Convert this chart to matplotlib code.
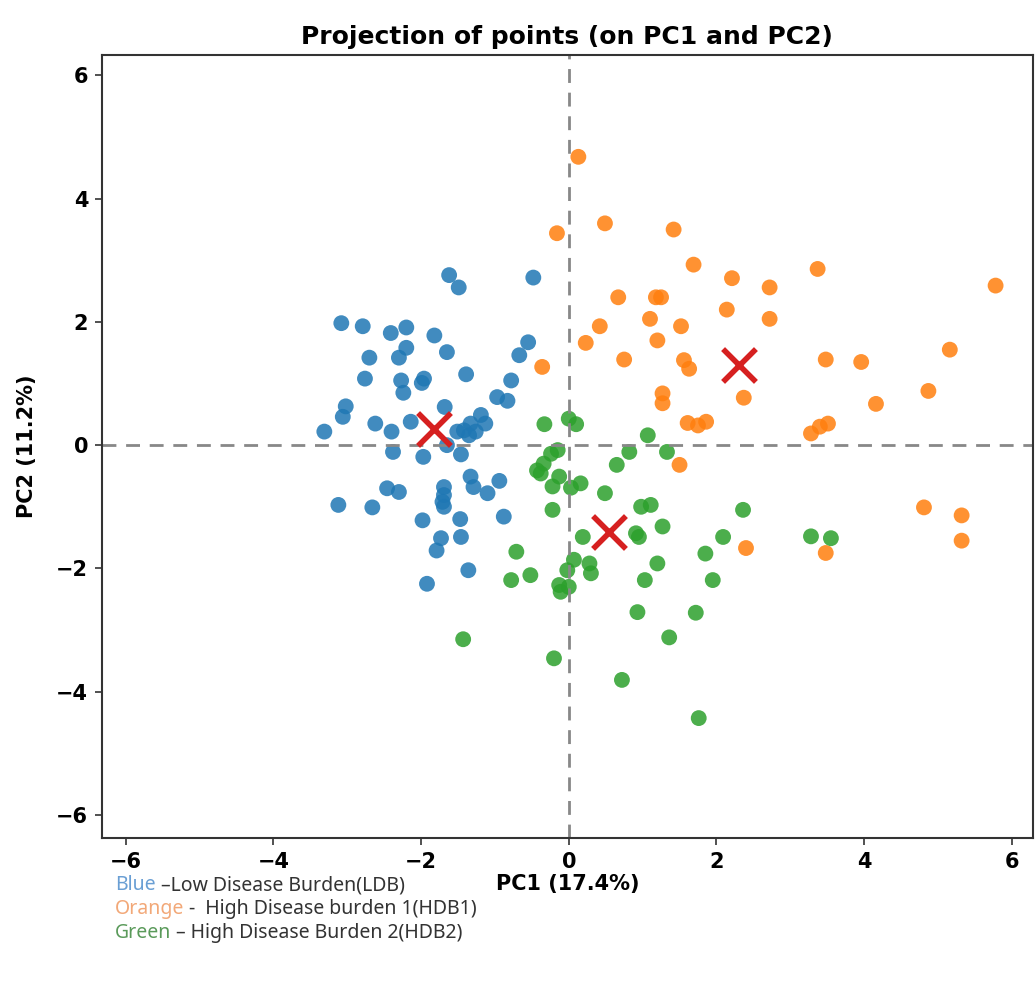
import matplotlib
matplotlib.use('Agg')
import matplotlib.pyplot as plt
import numpy as np

# PC scores, one list pair per cluster
blue_x = [-1.62, -1.49, -0.48, -3.08, -2.79, -2.41, -2.20, -1.82, -2.20, -2.30,
          -2.70, -1.65, -0.55, -0.67, -2.76, -2.27, -2.24, -1.96, -1.99, -1.39,
          -0.78, -0.97, -0.83, -3.02, -3.06, -3.31, -2.62, -2.40, -2.14, -1.68,
          -1.19, -1.13, -1.33, -1.42, -1.51, -1.26, -1.35, -1.65, -2.38, -1.97,
          -1.46, -1.33, -1.29, -1.10, -0.94, -2.46, -2.30, -1.69, -1.69, -1.71,
          -1.69, -3.12, -2.66, -1.98, -1.47, -0.88, -1.46, -1.73, -1.79, -1.36,
          -1.92]
blue_y = [2.76, 2.56, 2.72, 1.98, 1.93, 1.82, 1.91, 1.78, 1.58, 1.42,
          1.42, 1.51, 1.67, 1.46, 1.08, 1.05, 0.85, 1.08, 1.01, 1.15,
          1.05, 0.78, 0.72, 0.63, 0.46, 0.22, 0.35, 0.22, 0.38, 0.62,
          0.49, 0.35, 0.35, 0.24, 0.22, 0.22, 0.16, 0.00, -0.11, -0.19,
          -0.15, -0.51, -0.68, -0.78, -0.58, -0.70, -0.76, -0.68, -0.81, -0.92,
          -1.00, -0.97, -1.01, -1.22, -1.20, -1.16, -1.49, -1.51, -1.71, -2.03,
          -2.25]

orange_x = [0.13, 0.49, -0.16, 1.42, 1.69, 2.21, 2.72, 0.67, 1.18, 1.25,
            2.14, 2.72, 0.42, 1.10, 1.52, 0.23, 1.20, 0.75, 1.56, 1.63,
            -0.36, 2.37, 1.27, 1.27, 1.61, 1.75, 1.86, 1.50, 2.40, 3.37,
            5.78, 3.48, 3.96, 5.16, 4.87, 4.16, 3.28, 3.40, 3.51, 4.81,
            5.32, 5.32, 3.48]
orange_y = [4.68, 3.60, 3.44, 3.50, 2.93, 2.71, 2.56, 2.40, 2.40, 2.40,
            2.20, 2.05, 1.93, 2.05, 1.93, 1.66, 1.70, 1.39, 1.38, 1.24,
            1.27, 0.77, 0.84, 0.68, 0.36, 0.32, 0.38, -0.32, -1.67, 2.86,
            2.59, 1.39, 1.35, 1.55, 0.88, 0.67, 0.19, 0.30, 0.35, -1.01,
            -1.14, -1.55, -1.75]

green_x = [-0.33, 0.00, 0.10, 1.07, 0.82, 0.65, 1.33, -0.24, -0.15, -0.34,
           -0.43, -0.38, -0.13, -0.22, 0.03, 0.16, 0.49, -0.22, 0.98, 1.11,
           1.27, 0.91, 0.95, 0.19, 2.36, 2.09, 1.85, 1.95, 1.20, 1.03,
           -0.71, -0.78, -0.52, 0.07, 0.28, 0.30, -0.02, -0.13, -0.11, 0.00,
           0.93, 1.72, 1.36, -1.43, -0.20, 0.72, 1.76, 3.28, 3.55]
green_y = [0.34, 0.43, 0.34, 0.16, -0.11, -0.32, -0.11, -0.14, -0.08, -0.30,
           -0.41, -0.46, -0.51, -0.67, -0.69, -0.62, -0.78, -1.05, -1.00, -0.97,
           -1.32, -1.43, -1.49, -1.49, -1.05, -1.49, -1.76, -2.19, -1.92, -2.19,
           -1.73, -2.19, -2.11, -1.86, -1.92, -2.08, -2.03, -2.27, -2.38, -2.30,
           -2.71, -2.72, -3.12, -3.15, -3.46, -3.81, -4.43, -1.48, -1.51]

centroid_x = [-1.83, 2.31, 0.55]
centroid_y = [0.27, 1.30, -1.41]

ticks = [-6, -4, -2, 0, 2, 4, 6]
tick_labels = ['\u22126', '\u22124', '\u22122', '0', '2', '4', '6']

fig = plt.figure(figsize=(10.35, 9.85), dpi=100)
ax = fig.add_axes([0.0986, 0.149, 0.899, 0.795])

ax.scatter(blue_x, blue_y, s=130, color='#1f77b4', alpha=0.85, edgecolors='none')
ax.scatter(orange_x, orange_y, s=130, color='#ff7f0e', alpha=0.85, edgecolors='none')
ax.scatter(green_x, green_y, s=130, color='#2ca02c', alpha=0.85, edgecolors='none')
ax.scatter(centroid_x, centroid_y, s=560, marker='x', color='#d62020', linewidths=4, zorder=5)

ax.axhline(0, color='#888888', linestyle='--', linewidth=2, dashes=(5, 3.5))
ax.axvline(0, color='#888888', linestyle='--', linewidth=2, dashes=(5, 3.5))

ax.set_xlim(-6.32, 6.28)
ax.set_ylim(-6.38, 6.33)
ax.set_xticks(ticks)
ax.set_yticks(ticks)
ax.set_xticklabels(tick_labels, fontweight='bold', fontsize=15)
ax.set_yticklabels(tick_labels, fontweight='bold', fontsize=15)
ax.tick_params(length=5, width=1.2, color='#333333', pad=5)
for sp in ax.spines.values():
    sp.set_linewidth(1.5)
    sp.set_color('#333333')

ax.set_title('Projection of points (on PC1 and PC2)', fontweight='bold', fontsize=18, pad=8)
ax.set_xlabel('PC1 (17.4%)', fontweight='bold', fontsize=15, labelpad=1)
ax.set_ylabel('PC2 (11.2%)', fontweight='bold', fontsize=15, labelpad=14)

# colour key written below the axes
captions = [('Blue', '#6a9fd4', ' \u2013Low Disease Burden(LDB)'),
            ('Orange', '#f2a878', ' -  High Disease burden 1(HDB1)'),
            ('Green', '#5a9a5a', ' \u2013 High Disease Burden 2(HDB2)')]
y0 = 1 - 890 / 985
for i, (word, col, rest) in enumerate(captions):
    t = fig.text(115 / 1035, y0 - i * 24 / 985, word, color=col, fontsize=14,
                 family='Noto Sans', va='baseline')
    ax.annotate(rest, xy=(1, 0), xycoords=t, va='bottom', ha='left',
                fontsize=14, family='Noto Sans', color='#333333', annotation_clip=False)

fig.savefig('out.png', dpi=100)
